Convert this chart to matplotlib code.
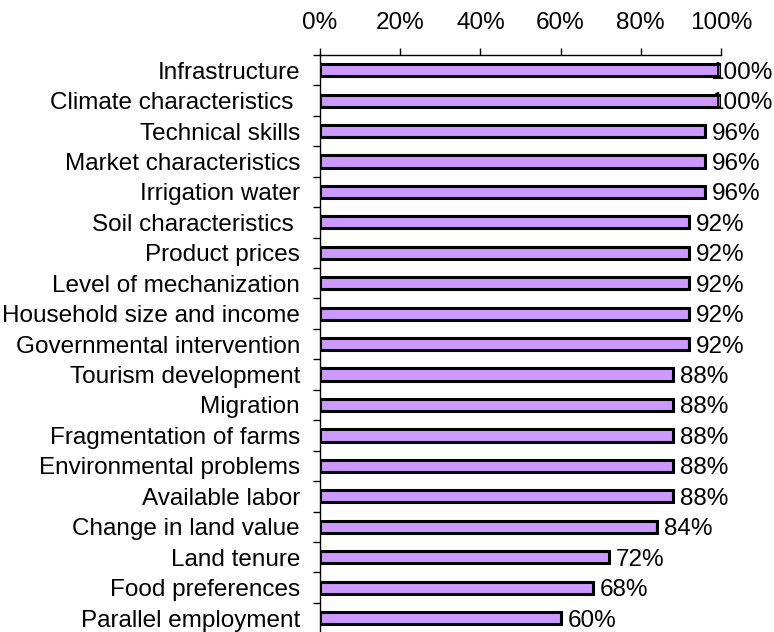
import numpy as np
import matplotlib.pyplot as plt

factors = ['Infrastructure', 'Climate characteristics ', 'Technical skills',
           'Market characteristics', 'Irrigation water', 'Soil characteristics ',
           'Product prices', 'Level of mechanization', 'Household size and income',
           'Governmental intervention', 'Tourism development', 'Migration',
           'Fragmentation of farms', 'Environmental problems', 'Available labor',
           'Change in land value', 'Land tenure', 'Food preferences',
           'Parallel employment']
percent = [100, 100, 96, 96, 96, 92, 92, 92, 92, 92, 88, 88, 88, 88, 88, 84, 72, 68, 60]
x_ticks = [0, 20, 40, 60, 80, 100]

plt.rcParams['font.family'] = ['Liberation Sans', 'DejaVu Sans']
FS = 17.5

fig = plt.figure(figsize=(7.74, 6.32), dpi=100)
ax = fig.add_axes([320 / 774, -0.002, 401 / 774, 0.915])

y = np.arange(len(factors))
ax.barh(y, percent, height=0.4, color='#CC99FF', edgecolor='black', linewidth=2.2)

for yi, v in zip(y, percent):
    if v >= 100:
        # no room outside the bar: push the label back against the right edge
        ax.annotate(f'{v}%', xy=(0.998, yi), xycoords=('figure fraction', 'data'),
                    va='center_baseline', ha='right', fontsize=FS, annotation_clip=False)
    else:
        ax.annotate(f'{v}%', (v, yi), xytext=(7, 0), textcoords='offset pixels',
                    va='center_baseline', ha='left', fontsize=FS, annotation_clip=False)

ax.set_xlim(0, 100)
ax.set_ylim(len(factors) - 0.5, -0.5)
ax.xaxis.tick_top()
ax.set_xticks(x_ticks)
ax.set_xticklabels([f'{t}%' for t in x_ticks], fontsize=FS)
ax.tick_params(axis='x', direction='out', length=5, width=1, pad=10)

ax.set_yticks(y)
ax.set_yticklabels(factors, fontsize=FS)
ax.set_yticks(np.arange(len(factors)) - 0.5, minor=True)
ax.tick_params(axis='y', which='major', length=0, pad=14.4)
ax.tick_params(axis='y', which='minor', direction='out', length=5, width=1)

for s in ['right', 'bottom']:
    ax.spines[s].set_visible(False)
ax.spines['left'].set_linewidth(1)
ax.spines['top'].set_linewidth(1)

fig.savefig('out.png', dpi=100)
